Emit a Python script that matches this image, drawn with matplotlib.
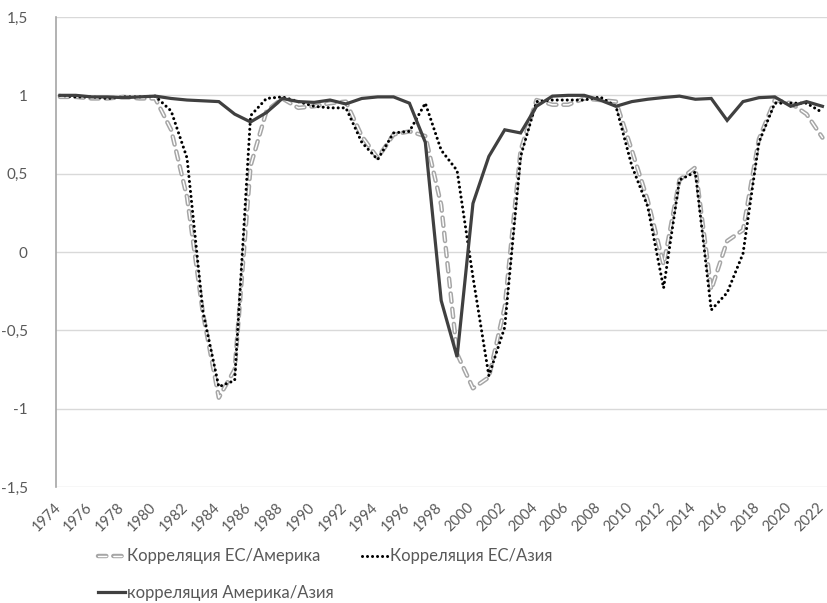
import numpy as np
import matplotlib
matplotlib.use("Agg")
import matplotlib.pyplot as plt
import matplotlib.patheffects as pe
from matplotlib.transforms import ScaledTranslation

plt.rcParams['font.family'] = ['Lato', 'DejaVu Sans']
plt.rcParams['lines.scale_dashes'] = False

years = list(range(1974, 2023))

# Корреляция ЕС/Америка
eu_america = [0.99, 0.99, 0.98, 0.98, 0.99, 0.98, 0.98, 0.78, 0.35, -0.39,
              -0.93, -0.75, 0.55, 0.90, 0.98, 0.92, 0.93, 0.95, 0.96, 0.74,
              0.60, 0.75, 0.77, 0.74, 0.30, -0.65, -0.87, -0.80, -0.35, 0.65,
              0.97, 0.94, 0.94, 0.98, 0.97, 0.96, 0.65, 0.33, -0.08, 0.46,
              0.54, -0.24, 0.07, 0.14, 0.72, 0.97, 0.95, 0.88, 0.73]

# Корреляция ЕС/Азия
eu_asia = [1.00, 0.99, 0.99, 0.98, 0.99, 0.99, 0.995, 0.90, 0.60, -0.38,
           -0.86, -0.82, 0.87, 0.98, 0.99, 0.96, 0.93, 0.92, 0.92, 0.70,
           0.59, 0.76, 0.77, 0.95, 0.65, 0.52, -0.16, -0.79, -0.48, 0.61,
           0.96, 0.97, 0.97, 0.97, 0.99, 0.93, 0.55, 0.29, -0.23, 0.46,
           0.51, -0.37, -0.26, -0.01, 0.70, 0.95, 0.95, 0.95, 0.89]

# корреляция Америка/Азия
america_asia = [1.00, 1.00, 0.99, 0.99, 0.985, 0.99, 0.995, 0.98, 0.97, 0.965,
                0.96, 0.88, 0.83, 0.89, 0.98, 0.96, 0.955, 0.97, 0.945, 0.98,
                0.99, 0.99, 0.95, 0.70, -0.31, -0.67, 0.31, 0.61, 0.78, 0.76,
                0.93, 0.995, 1.00, 1.00, 0.97, 0.93, 0.96, 0.975, 0.986, 0.995,
                0.975, 0.98, 0.84, 0.96, 0.985, 0.99, 0.93, 0.96, 0.93]

labels = ["Корреляция ЕС/Америка", "Корреляция ЕС/Азия", "корреляция Америка/Азия"]
y_ticks = [-1.5, -1, -0.5, 0, 0.5, 1, 1.5]
y_tick_labels = ["-1,5", "-1", "-0,5", "0", "0,5", "1", "1,5"]

text_color = "#595959"

fig = plt.figure(figsize=(8.28, 6.03), dpi=100)
ax = fig.add_axes([55.5 / 828, 1 - 487 / 603, 1 - 55.5 / 828, (487 - 17) / 603])

l1, = ax.plot(years, eu_america, color="white", lw=1.0, linestyle=(0, (6, 5)),
              dash_capstyle="round", solid_joinstyle="round",
              path_effects=[pe.Stroke(linewidth=3.2, foreground="#a6a6a6"), pe.Normal()],
              zorder=3)
l2, = ax.plot(years, eu_asia, color="black", lw=2.2, linestyle=(0, (0.01, 3.6)),
              dash_capstyle="round", zorder=4)
l3, = ax.plot(years, america_asia, color="#404040", lw=2.3,
              solid_joinstyle="miter", zorder=5)

ax.set_xlim(1973.72, 2022.35)
ax.set_ylim(-1.5, 1.5)
ax.set_yticks(y_ticks)
ax.set_yticklabels(y_tick_labels)
ax.set_xticks(years[::2])
ax.set_xticklabels([str(y) for y in years[::2]], rotation=45, ha="right",
                   va="center", rotation_mode="anchor")
ax.tick_params(axis="both", length=0, colors=text_color)
ax.tick_params(axis="y", pad=20, labelsize=11)
ax.tick_params(axis="x", pad=13, labelsize=10.5)
# nudge rotated year labels so their ends sit just right of the tick
for t in ax.get_xticklabels():
    t.set_transform(t.get_transform() + ScaledTranslation(-1 / 72, 0, fig.dpi_scale_trans))

ax.grid(axis="y", color="#d9d9d9", lw=1.0)
ax.set_axisbelow(True)
for s in ["top", "right", "bottom"]:
    ax.spines[s].set_visible(False)
ax.spines["left"].set_color("#a6a6a6")
ax.spines["left"].set_linewidth(1.2)

leg = fig.legend([l1, l3, l2], [labels[0], labels[2], labels[1]], ncol=2,
                 loc="upper left", bbox_to_anchor=(90 / 828, 1 - 540 / 603),
                 frameon=False, fontsize=12, handlelength=1.6, handletextpad=0.1,
                 columnspacing=1.7, labelspacing=1.25, borderpad=0)
for t in leg.get_texts():
    t.set_color(text_color)

fig.savefig("out.png", dpi=100)
